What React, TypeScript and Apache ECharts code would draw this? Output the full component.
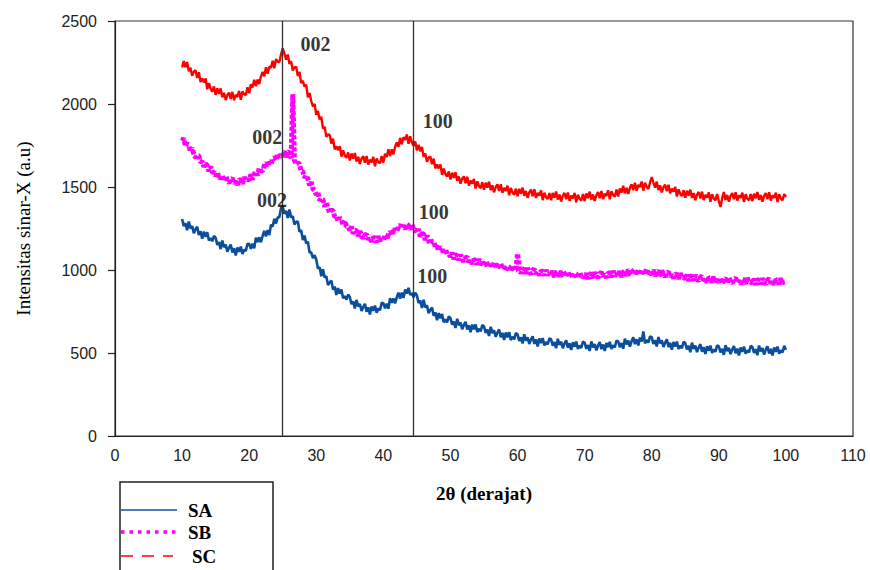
import React, { useEffect, useRef } from "react";
import * as echarts from "echarts";

// 2θ sampling of the traces (degrees)
const X_START = 10;
const X_STEP = 0.25;

// SA (blue) intensities, 10° .. 100° every 0.25° (one row = 2°)
const SA = [
  1307, 1264, 1282, 1240, 1292, 1250, 1265, 1222,
  1245, 1260, 1211, 1234, 1188, 1231, 1200, 1227,
  1178, 1193, 1173, 1206, 1194, 1151, 1168, 1126,
  1178, 1137, 1153, 1110, 1135, 1153, 1106, 1131,
  1088, 1136, 1109, 1141, 1096, 1123, 1114, 1158,
  1157, 1127, 1158, 1130, 1195, 1168, 1197, 1167,
  1205, 1236, 1202, 1240, 1210, 1273, 1262, 1309,
  1280, 1317, 1318, 1373, 1382, 1339, 1356, 1313,
  1365, 1317, 1324, 1274, 1290, 1292, 1230, 1239,
  1180, 1207, 1160, 1170, 1105, 1106, 1071, 1089,
  1062, 1009, 1016, 963, 1005, 955, 962, 910,
  925, 936, 882, 900, 850, 891, 857, 882,
  830, 843, 821, 852, 837, 794, 811, 768,
  820, 780, 795, 753, 777, 796, 749, 775,
  732, 780, 754, 786, 742, 768, 758, 802,
  800, 769, 797, 767, 830, 802, 829, 799,
  835, 864, 828, 864, 832, 882, 858, 892,
  850, 861, 836, 864, 847, 801, 816, 771,
  820, 775, 787, 740, 760, 774, 724, 745,
  698, 740, 709, 735, 685, 703, 685, 720,
  710, 670, 690, 651, 706, 667, 684, 643,
  669, 688, 642, 667, 625, 671, 643, 672,
  626, 646, 630, 668, 660, 621, 641, 603,
  658, 620, 637, 597, 623, 642, 595, 621,
  578, 624, 595, 625, 578, 598, 582, 620,
  612, 573, 595, 557, 613, 575, 594, 554,
  581, 601, 555, 582, 540, 587, 560, 590,
  545, 566, 551, 589, 582, 544, 566, 529,
  586, 549, 568, 529, 557, 577, 532, 559,
  518, 565, 538, 569, 524, 545, 530, 569,
  562, 525, 548, 512, 570, 534, 554, 516,
  545, 566, 523, 551, 512, 560, 535, 567,
  524, 547, 534, 575, 570, 535, 560, 526,
  586, 552, 575, 539, 571, 594, 553, 583,
  546, 594, 569, 630, 558, 578, 563, 601,
  594, 555, 577, 539, 596, 558, 576, 536,
  563, 582, 536, 562, 520, 566, 539, 569,
  524, 544, 529, 567, 560, 521, 543, 505,
  562, 525, 544, 505, 533, 553, 508, 535,
  494, 541, 514, 545, 500, 521, 507, 546,
  540, 503, 525, 489, 547, 511, 531, 493,
  521, 542, 498, 526, 485, 533, 507, 539,
  495, 517, 503, 543, 537, 500, 523, 487,
  545, 509, 529, 491, 520, 541, 497, 525,
  485, 533, 507, 539, 495, 517, 503, 543,
  520,
];

// SB (magenta) intensities
const SB = [
  1778, 1794, 1745, 1759, 1754, 1712, 1735, 1699,
  1676, 1690, 1688, 1650, 1654, 1622, 1642, 1628,
  1594, 1623, 1589, 1586, 1568, 1590, 1548, 1567,
  1569, 1535, 1567, 1538, 1524, 1546, 1552, 1522,
  1534, 1513, 1545, 1542, 1519, 1559, 1538, 1546,
  1540, 1575, 1545, 1578, 1592, 1570, 1614, 1598,
  1596, 1629, 1646, 1626, 1649, 1635, 1672, 1676,
  1659, 1701, 1682, 1692, 1688, 1716, 1680, 1706,
  1714, 1672, 2060, 1659, 1636, 1645, 1638, 1595,
  1594, 1556, 1570, 1549, 1509, 1530, 1489, 1478,
  1453, 1467, 1418, 1430, 1424, 1382, 1405, 1369,
  1346, 1360, 1358, 1320, 1324, 1293, 1315, 1302,
  1269, 1297, 1263, 1258, 1240, 1261, 1219, 1238,
  1239, 1204, 1235, 1206, 1191, 1211, 1216, 1184,
  1194, 1170, 1198, 1192, 1166, 1204, 1180, 1186,
  1178, 1212, 1183, 1215, 1229, 1207, 1250, 1234,
  1231, 1260, 1273, 1250, 1269, 1246, 1275, 1269,
  1244, 1275, 1243, 1242, 1226, 1246, 1202, 1219,
  1219, 1180, 1208, 1175, 1156, 1173, 1173, 1138,
  1144, 1115, 1138, 1127, 1096, 1127, 1096, 1095,
  1080, 1105, 1065, 1088, 1092, 1059, 1092, 1065,
  1052, 1074, 1079, 1049, 1060, 1036, 1064, 1058,
  1032, 1066, 1038, 1040, 1028, 1054, 1016, 1040,
  1046, 1014, 1048, 1022, 1010, 1032, 1038, 1008,
  1020, 996, 1024, 1018, 992, 1026, 998, 1000,
  1100, 1015, 978, 1002, 1009, 978, 1013, 987,
  976, 999, 1006, 977, 990, 967, 996, 991,
  966, 1001, 975, 978, 967, 994, 958, 983,
  990, 959, 995, 970, 959, 982, 990, 961,
  974, 951, 981, 976, 951, 987, 960, 964,
  953, 981, 946, 972, 980, 951, 987, 964,
  954, 979, 987, 960, 974, 953, 984, 980,
  957, 994, 969, 973, 964, 993, 958, 985,
  994, 965, 1003, 980, 971, 996, 1005, 977,
  992, 970, 1000, 996, 972, 1007, 981, 984,
  973, 1000, 963, 987, 994, 963, 997, 972,
  960, 983, 989, 960, 972, 949, 977, 972,
  946, 981, 954, 956, 945, 972, 935, 959,
  966, 935, 970, 945, 934, 957, 964, 935,
  948, 925, 955, 950, 925, 960, 934, 937,
  926, 954, 917, 943, 950, 920, 955, 931,
  920, 944, 952, 924, 937, 915, 945, 941,
  916, 952, 926, 930, 919, 947, 911, 937,
  944, 914, 950, 926, 916, 940, 948, 920,
  934, 912, 942, 938, 914, 950, 924, 928,
  930,
];

// SC (red) intensities
const SC = [
  2220, 2258, 2222, 2253, 2197, 2218, 2170, 2195,
  2204, 2157, 2191, 2132, 2155, 2130, 2154, 2089,
  2126, 2093, 2075, 2106, 2055, 2095, 2061, 2094,
  2040, 2067, 2024, 2054, 2069, 2031, 2073, 2023,
  2055, 2043, 2079, 2026, 2076, 2058, 2055, 2101,
  2065, 2119, 2100, 2146, 2107, 2148, 2120, 2165,
  2194, 2167, 2221, 2182, 2225, 2219, 2261, 2215,
  2271, 2254, 2253, 2299, 2335, 2303, 2267, 2298,
  2242, 2257, 2202, 2221, 2224, 2169, 2193, 2126,
  2140, 2104, 2116, 2040, 2066, 2018, 1985, 2001,
  1935, 1958, 1907, 1923, 1852, 1862, 1802, 1816,
  1814, 1762, 1791, 1727, 1745, 1722, 1746, 1683,
  1721, 1690, 1675, 1708, 1660, 1702, 1671, 1705,
  1654, 1682, 1639, 1671, 1686, 1646, 1687, 1635,
  1665, 1649, 1681, 1625, 1671, 1649, 1644, 1686,
  1647, 1700, 1681, 1727, 1687, 1727, 1697, 1741,
  1769, 1742, 1796, 1757, 1800, 1784, 1816, 1760,
  1806, 1769, 1748, 1774, 1720, 1754, 1715, 1741,
  1682, 1702, 1652, 1676, 1684, 1637, 1671, 1612,
  1635, 1612, 1636, 1573, 1611, 1579, 1563, 1594,
  1545, 1586, 1555, 1589, 1537, 1563, 1520, 1550,
  1564, 1523, 1562, 1509, 1538, 1520, 1549, 1491,
  1534, 1506, 1493, 1529, 1483, 1526, 1496, 1532,
  1482, 1510, 1468, 1500, 1516, 1476, 1517, 1465,
  1495, 1477, 1508, 1450, 1494, 1466, 1454, 1490,
  1445, 1489, 1460, 1496, 1447, 1476, 1435, 1467,
  1484, 1445, 1486, 1434, 1465, 1448, 1479, 1421,
  1466, 1439, 1428, 1464, 1420, 1464, 1436, 1473,
  1424, 1454, 1413, 1447, 1464, 1426, 1467, 1417,
  1448, 1432, 1464, 1408, 1454, 1429, 1419, 1458,
  1415, 1461, 1433, 1472, 1424, 1455, 1416, 1450,
  1469, 1432, 1476, 1427, 1460, 1446, 1480, 1426,
  1474, 1451, 1443, 1484, 1443, 1491, 1466, 1507,
  1462, 1495, 1458, 1495, 1516, 1481, 1526, 1478,
  1513, 1499, 1533, 1478, 1526, 1500, 1489, 1527,
  1560, 1526, 1496, 1532, 1482, 1510, 1467, 1499,
  1514, 1474, 1513, 1461, 1490, 1472, 1501, 1443,
  1486, 1458, 1445, 1481, 1435, 1478, 1448, 1484,
  1434, 1463, 1421, 1454, 1470, 1431, 1472, 1421,
  1452, 1436, 1467, 1411, 1456, 1430, 1420, 1458,
  1415, 1380, 1432, 1470, 1422, 1452, 1412, 1446,
  1464, 1426, 1468, 1418, 1450, 1434, 1466, 1410,
  1456, 1430, 1420, 1458, 1415, 1460, 1432, 1470,
  1422, 1452, 1412, 1446, 1464, 1426, 1468, 1418,
  1450, 1434, 1466, 1410, 1456, 1430, 1420, 1458,
  1440,
];

// reference lines (2θ) for the 002 and 100 reflections
const REF_LINES = [25, 44.5];

// peak annotations
const ANNOT_TEXT = ["002", "002", "002", "100", "100", "100"];
const ANNOT_X = [29.9, 22.7, 23.4, 48.1, 47.5, 47.3];
const ANNOT_Y = [2361, 1801, 1422, 1898, 1349, 964];

const SERIES_NAMES = ["SA", "SB", "SC"];
const SERIES_COLORS = ["#0a4f9e", "#ff00ff", "#ff0000"];

function toPairs(vals: number[]) {
  return vals.map((v, i) => [X_START + i * X_STEP, v]);
}

export default function App() {
  const ref = useRef<HTMLDivElement>(null);

  useEffect(() => {
    if (!ref.current) return;
    const chart = echarts.init(ref.current, undefined, { renderer: "svg" });
    const serif = "'Liberation Serif', 'Times New Roman', serif";
    const sans = "'Liberation Sans', Arial, sans-serif";
    const legendFont = `bold 19px ${serif}`;

    chart.setOption({
      animation: false,
      backgroundColor: "#ffffff",
      grid: {
        left: 115,
        right: 17,
        top: 21,
        bottom: 134,
        show: true,
        borderColor: "#333",
        borderWidth: 1.2,
        backgroundColor: "transparent",
      },
      xAxis: {
        type: "value",
        min: 0,
        max: 110,
        interval: 10,
        name: "2θ (derajat)",
        nameLocation: "middle",
        nameGap: 48,
        nameTextStyle: {
          fontFamily: serif,
          fontWeight: "bold",
          fontSize: 19,
          color: "#000",
        },
        axisLine: { show: true, lineStyle: { color: "#222", width: 1.2 } },
        axisTick: { show: false },
        splitLine: { show: false },
        axisLabel: {
          fontFamily: sans,
          fontSize: 16,
          color: "#222",
          margin: 11,
        },
      },
      yAxis: {
        type: "value",
        min: 0,
        max: 2500,
        interval: 500,
        name: "Intensitas sinar-X (a.u)",
        nameLocation: "middle",
        nameGap: 82,
        nameTextStyle: {
          fontFamily: serif,
          fontSize: 19,
          color: "#000",
        },
        axisLine: { show: true, lineStyle: { color: "#222", width: 1.2 } },
        axisTick: {
          show: true,
          inside: false,
          length: 7,
          lineStyle: { color: "#222", width: 1.2 },
        },
        splitLine: { show: false },
        axisLabel: {
          fontFamily: sans,
          fontSize: 16,
          color: "#222",
          margin: 18,
          formatter: (v: number) => String(v),
        },
      },
      graphic: [
        {
          type: "rect",
          shape: { x: 120, y: 482, width: 153, height: 110 },
          style: { fill: "none", stroke: "#222", lineWidth: 1.5 },
          silent: true,
        },
        {
          type: "line",
          shape: { x1: 121, y1: 510, x2: 177, y2: 510 },
          style: { stroke: "#4a7ebb", lineWidth: 2 },
          silent: true,
        },
        {
          type: "text",
          x: 188,
          y: 510,
          style: { text: SERIES_NAMES[0], font: legendFont, fill: "#000", verticalAlign: "middle" },
          silent: true,
        },
        {
          type: "line",
          shape: { x1: 121, y1: 532, x2: 180, y2: 532 },
          style: { stroke: "#ff00ff", lineWidth: 3.5, lineDash: [3.5, 5] },
          silent: true,
        },
        {
          type: "text",
          x: 188,
          y: 532,
          style: { text: SERIES_NAMES[1], font: legendFont, fill: "#000", verticalAlign: "middle" },
          silent: true,
        },
        {
          type: "line",
          shape: { x1: 121, y1: 556, x2: 173, y2: 556 },
          style: { stroke: "#ff0000", lineWidth: 1.5, lineDash: [12, 9] },
          silent: true,
        },
        {
          type: "text",
          x: 192,
          y: 556,
          style: { text: SERIES_NAMES[2], font: legendFont, fill: "#000", verticalAlign: "middle" },
          silent: true,
        },
      ],
      series: [
        {
          name: SERIES_NAMES[0],
          type: "line",
          data: toPairs(SA),
          showSymbol: false,
          symbol: "none",
          lineStyle: { color: SERIES_COLORS[0], width: 2.6 },
          itemStyle: { color: SERIES_COLORS[0] },
          z: 3,
          markLine: {
            silent: true,
            symbol: ["none", "none"],
            label: { show: false },
            lineStyle: { color: "#333", width: 1.3, type: "solid" },
            data: REF_LINES.map((x) => ({ xAxis: x })),
            z: 10,
          },
        },
        {
          name: SERIES_NAMES[1],
          type: "line",
          data: toPairs(SB),
          showSymbol: false,
          symbol: "none",
          lineStyle: { color: SERIES_COLORS[1], width: 5, type: [4, 2] },
          itemStyle: { color: SERIES_COLORS[1] },
          z: 4,
        },
        {
          name: SERIES_NAMES[2],
          type: "line",
          data: toPairs(SC),
          showSymbol: false,
          symbol: "none",
          lineStyle: { color: SERIES_COLORS[2], width: 2.4 },
          itemStyle: { color: SERIES_COLORS[2] },
          z: 5,
        },
        {
          name: "annotations",
          type: "scatter",
          data: ANNOT_TEXT.map((t, i) => ({ name: t, value: [ANNOT_X[i], ANNOT_Y[i]] })),
          symbolSize: 0,
          silent: true,
          z: 12,
          label: {
            show: true,
            position: "inside",
            formatter: (p: any) => p.name,
            fontFamily: serif,
            fontWeight: "bold",
            fontSize: 20,
            color: "#000",
          },
        },
      ],
    });

    return () => chart.dispose();
  }, []);

  return (
    <div
      ref={ref}
      style={{ position: "fixed", left: 0, top: 0, width: 870, height: 570 }}
    />
  );
}
